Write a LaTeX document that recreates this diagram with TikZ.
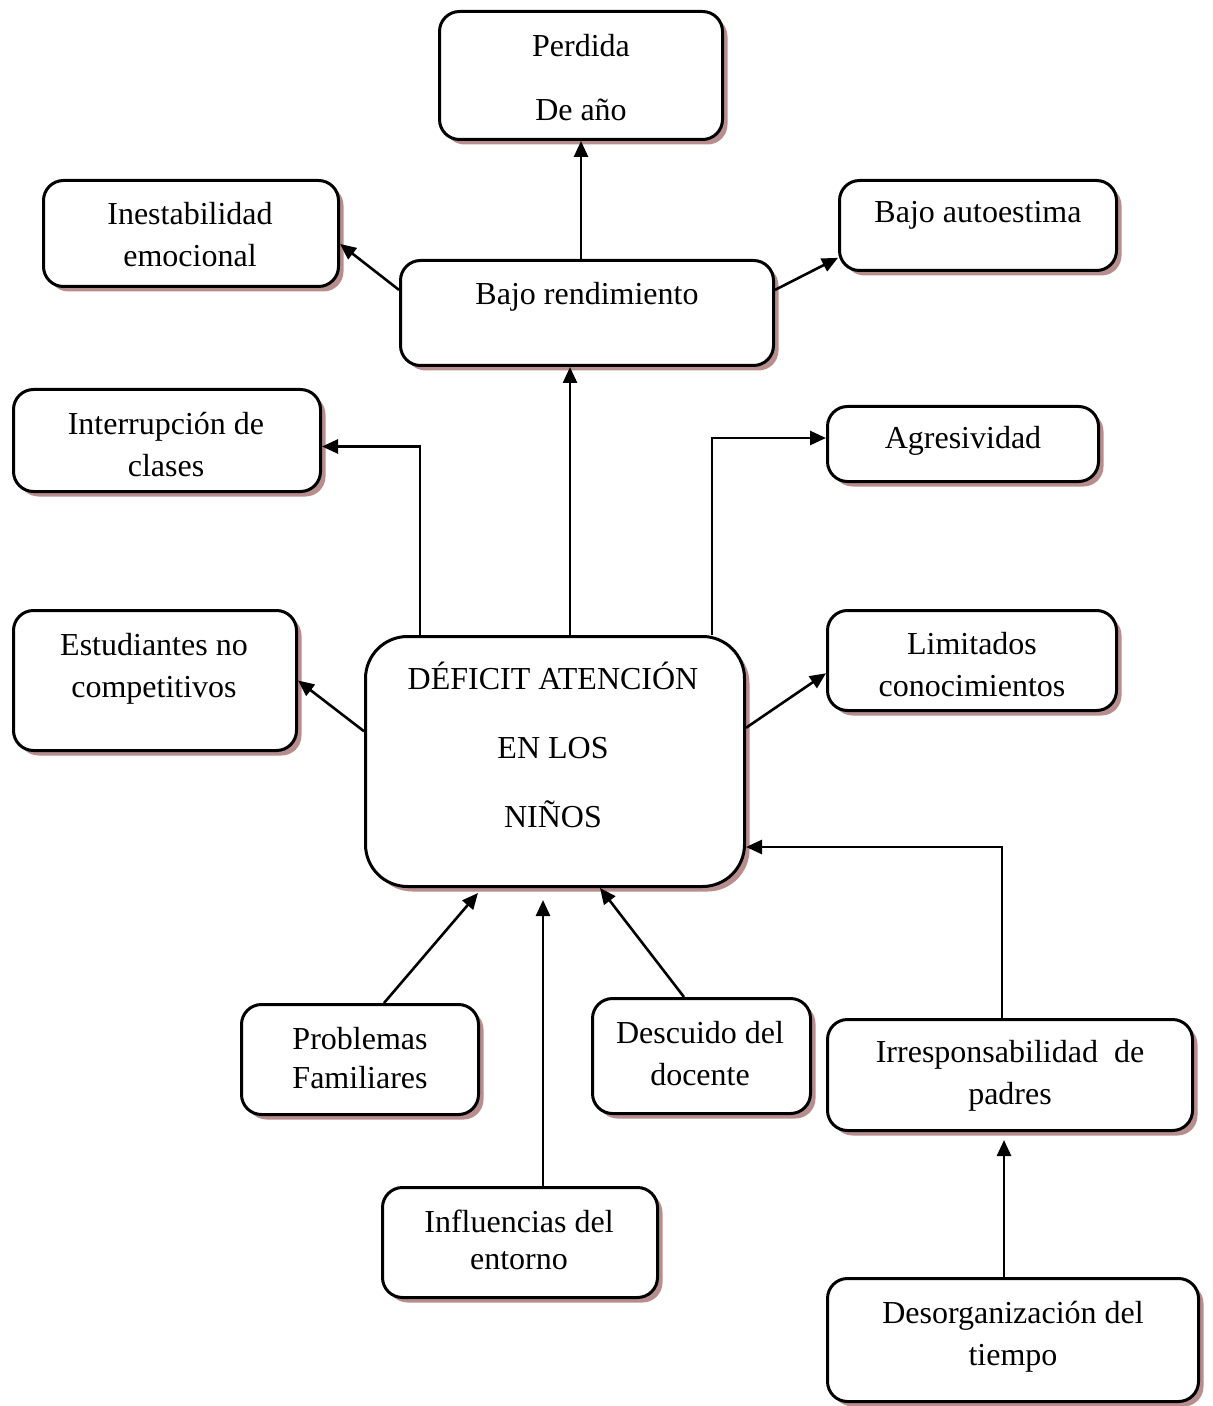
\documentclass[tikz,border=0pt]{standalone}
\usepackage{fontspec}
\setmainfont{Liberation Serif}
\usetikzlibrary{arrows.meta,shadows}
\definecolor{sombra}{RGB}{183,141,141}

\begin{document}
\begin{tikzpicture}[x=0.5pt,y=-0.5pt,font=\fontsize{16}{21}\selectfont,
		caja/.style={draw,line width=1.5pt,rounded corners=10pt,fill=white,inner sep=0pt,
			drop shadow={shadow xshift=2.5pt,shadow yshift=-2.5pt,fill=sombra,opacity=1}},
		texto/.style={align=center,inner sep=0pt},
		flecha/.style={-{Triangle[length=8pt,width=7pt]},line width=1.3pt}]
				\useasboundingbox (0,0) rectangle (1213,1406);
				% cajas
				\node[caja,minimum width=141.5pt,minimum height=64pt] (perdida) at (581,75.5) {};
				\node[caja,minimum width=147.5pt,minimum height=53pt] (inest) at (191,233.5) {};
				\node[caja,minimum width=138.5pt,minimum height=45pt] (autoest) at (978,225.5) {};
				\node[caja,minimum width=186.5pt,minimum height=52.5pt] (bajo) at (587,313) {};
				\node[caja,minimum width=153.5pt,minimum height=51pt] (interr) at (167,440.5) {};
				\node[caja,minimum width=135.5pt,minimum height=37.5pt] (agres) at (963,444) {};
				\node[caja,minimum width=141.5pt,minimum height=70pt] (estud) at (155,680.5) {};
				\node[caja,rounded corners=21pt,minimum width=189.5pt,minimum height=125pt] (deficit) at (555,761.5) {};
				\node[caja,minimum width=144.5pt,minimum height=50pt] (limit) at (972,660.5) {};
				\node[caja,minimum width=118.5pt,minimum height=55pt] (probl) at (360,1059.5) {};
				\node[caja,minimum width=109pt,minimum height=57.5pt] (descu) at (701.5,1056) {};
				\node[caja,minimum width=182.5pt,minimum height=55.5pt] (irresp) at (1010,1075) {};
				\node[caja,minimum width=137.5pt,minimum height=55pt] (influ) at (520,1242.5) {};
				\node[caja,minimum width=185.5pt,minimum height=61.5pt] (desorg) at (1013,1340) {};
				% textos
				\node[texto,font=\fontsize{16}{32}\selectfont] (perdida-t) at (581,78) {Perdida\\De año};
				\node[texto] (inest-t) at (190,235) {Inestabilidad\\emocional};
				\node[texto] (autoest-t) at (978,215) {Bajo autoestima};
				\node[texto] (bajo-t) at (587,297) {Bajo rendimiento};
				\node[texto] (interr-t) at (166,445) {Interrupción de\\clases};
				\node[texto] (agres-t) at (963,441) {Agresividad};
				\node[texto] (estud-t) at (154,669) {Estudiantes no\\competitivos};
				\node[texto,font=\fontsize{16}{34.5}\selectfont] (deficit-t) at (553,745) {DÉFICIT ATENCIÓN\\EN LOS\\NIÑOS};
				\node[texto] (limit-t) at (972,665) {Limitados\\conocimientos};
				\node[texto,font=\fontsize{16}{19.5}\selectfont] (probl-t) at (360,1058) {Problemas\\Familiares};
				\node[texto] (descu-t) at (700,1054) {Descuido del\\docente};
				\node[texto] (irresp-t) at (1010,1076) {Irresponsabilidad\ \ de\\padres};
				\node[texto,font=\fontsize{16}{18.5}\selectfont] (influ-t) at (519,1240) {Influencias del\\entorno};
				\node[texto] (desorg-t) at (1013,1337) {Desorganización del\\tiempo};
				% efectos
				\draw[flecha] (perdida.south |- bajo.north) -- (perdida.south);
				\draw[flecha] (bajo.173) -- (inest.-4);
				\draw[flecha] (bajo.7) -- (autoest.193);
				\draw[flecha] ([xshift=7.5pt]deficit.north) -- ([xshift=7.5pt]deficit.north |- bajo.south);
				\draw[flecha] ([xshift=-67.5pt]deficit.north) |- ([yshift=-3pt]interr.east);
				\draw[flecha] ([xshift=78.5pt]deficit.north) |- ([yshift=3pt]agres.west);
				\draw[flecha] (deficit.171) -- (estud.east);
				\draw[flecha] (deficit.10) -- (limit.185);
				% causas
				\draw[flecha] ([xshift=12pt]probl.north) -- ([xshift=-38.5pt,yshift=-2.5pt]deficit.south);
				\draw[flecha] ([xshift=11.5pt]influ.north) -- ([xshift=-6pt,yshift=-6pt]deficit.south);
				\draw[flecha] ([xshift=-8.75pt]descu.north) -- ([xshift=22.5pt]deficit.south);
				\draw[flecha] ([xshift=-4pt]irresp.north) |- ([yshift=-42.75pt]deficit.east);
				\draw[flecha] ([xshift=-4.5pt]desorg.north) -- ([xshift=-4.5pt,yshift=-4pt]desorg.north |- irresp.south);
		\end{tikzpicture}
\end{document}
